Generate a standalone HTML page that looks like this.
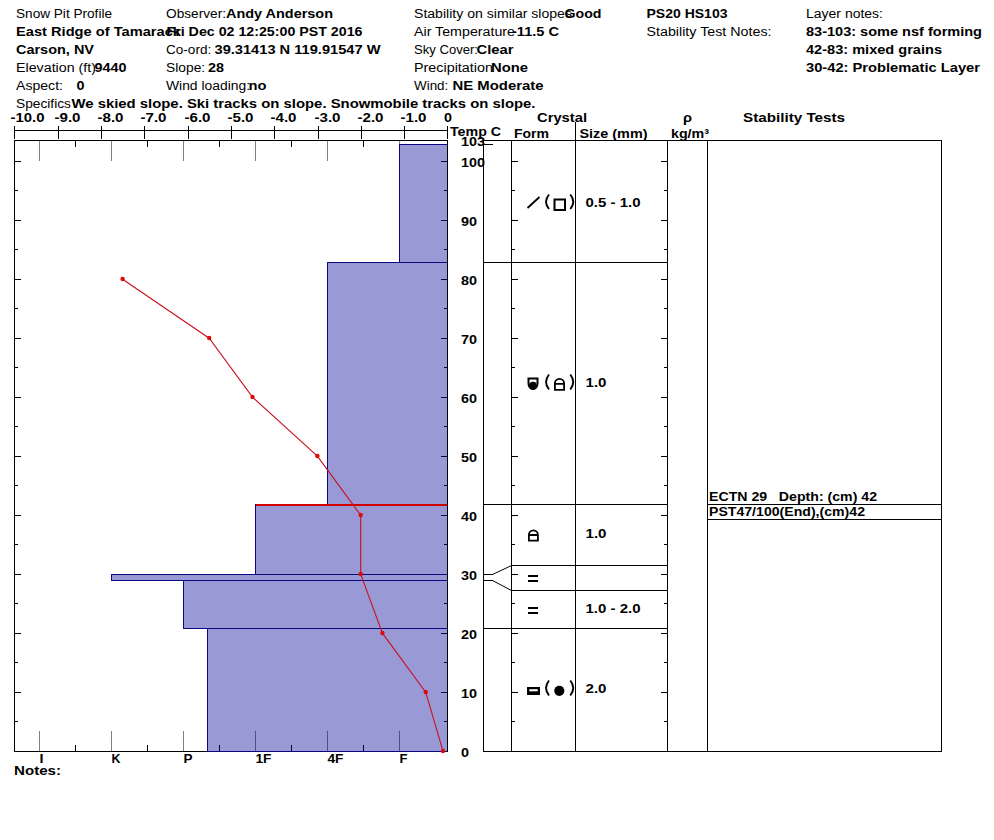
<!DOCTYPE html>
<html><head><meta charset="utf-8"><style>
html,body{margin:0;padding:0;background:#fff;}
svg{display:block;}
text{font-family:"Liberation Sans",sans-serif;white-space:pre;}
</style></head><body>
<svg width="994" height="840" viewBox="0 0 994 840" shape-rendering="crispEdges">
<rect width="994" height="840" fill="#fff"/>
<text x="16" y="18" font-weight="normal" font-size="12.5" fill="#000" textLength="96.00" lengthAdjust="spacingAndGlyphs">Snow Pit Profile</text>
<text x="166" y="18" font-weight="normal" font-size="12.5" fill="#000" textLength="60.00" lengthAdjust="spacingAndGlyphs">Observer:</text>
<text x="226" y="18" font-weight="bold" font-size="12.5" fill="#000" textLength="107.00" lengthAdjust="spacingAndGlyphs">Andy Anderson</text>
<text x="414" y="18" font-weight="normal" font-size="12.5" fill="#000" textLength="158.00" lengthAdjust="spacingAndGlyphs">Stability on similar slopes</text>
<text x="564.5" y="18" font-weight="bold" font-size="12.5" fill="#000" textLength="37.00" lengthAdjust="spacingAndGlyphs">Good</text>
<text x="646.5" y="18" font-weight="bold" font-size="12.5" fill="#000" textLength="81.00" lengthAdjust="spacingAndGlyphs">PS20 HS103</text>
<text x="806" y="18" font-weight="normal" font-size="12.5" fill="#000" textLength="77.00" lengthAdjust="spacingAndGlyphs">Layer notes:</text>
<text x="16" y="36" font-weight="bold" font-size="12.5" fill="#000" textLength="165.00" lengthAdjust="spacingAndGlyphs">East Ridge of Tamarack</text>
<text x="166.5" y="36" font-weight="bold" font-size="12.5" fill="#000" textLength="196.00" lengthAdjust="spacingAndGlyphs">Fri Dec 02 12:25:00 PST 2016</text>
<text x="414" y="36" font-weight="normal" font-size="12.5" fill="#000" textLength="101.00" lengthAdjust="spacingAndGlyphs">Air Temperature</text>
<text x="512" y="36" font-weight="bold" font-size="12.5" fill="#000" textLength="47.00" lengthAdjust="spacingAndGlyphs">-11.5 C</text>
<text x="646.5" y="36" font-weight="normal" font-size="12.5" fill="#000" textLength="125.00" lengthAdjust="spacingAndGlyphs">Stability Test Notes:</text>
<text x="806" y="36" font-weight="bold" font-size="12.5" fill="#000" textLength="176.00" lengthAdjust="spacingAndGlyphs">83-103: some nsf forming</text>
<text x="16" y="54" font-weight="bold" font-size="12.5" fill="#000" textLength="78.00" lengthAdjust="spacingAndGlyphs">Carson, NV</text>
<text x="166" y="54" font-weight="normal" font-size="12.5" fill="#000" textLength="49.00" lengthAdjust="spacingAndGlyphs">Co-ord: </text>
<text x="214.5" y="54" font-weight="bold" font-size="12.5" fill="#000" textLength="166.00" lengthAdjust="spacingAndGlyphs">39.31413 N 119.91547 W</text>
<text x="414" y="54" font-weight="normal" font-size="12.5" fill="#000" textLength="64.00" lengthAdjust="spacingAndGlyphs">Sky Cover:</text>
<text x="476.5" y="54" font-weight="bold" font-size="12.5" fill="#000" textLength="37.00" lengthAdjust="spacingAndGlyphs">Clear</text>
<text x="806" y="54" font-weight="bold" font-size="12.5" fill="#000" textLength="136.00" lengthAdjust="spacingAndGlyphs">42-83: mixed grains</text>
<text x="16" y="72" font-weight="normal" font-size="12.5" fill="#000" textLength="80.00" lengthAdjust="spacingAndGlyphs">Elevation (ft)</text>
<text x="94.5" y="72" font-weight="bold" font-size="12.5" fill="#000" textLength="32.00" lengthAdjust="spacingAndGlyphs">9440</text>
<text x="166" y="72" font-weight="normal" font-size="12.5" fill="#000" textLength="43.00" lengthAdjust="spacingAndGlyphs">Slope: </text>
<text x="208" y="72" font-weight="bold" font-size="12.5" fill="#000" textLength="16.00" lengthAdjust="spacingAndGlyphs">28</text>
<text x="414" y="72" font-weight="normal" font-size="12.5" fill="#000" textLength="79.00" lengthAdjust="spacingAndGlyphs">Precipitation</text>
<text x="491" y="72" font-weight="bold" font-size="12.5" fill="#000" textLength="37.00" lengthAdjust="spacingAndGlyphs">None</text>
<text x="806" y="72" font-weight="bold" font-size="12.5" fill="#000" textLength="174.00" lengthAdjust="spacingAndGlyphs">30-42: Problematic Layer</text>
<text x="16" y="90" font-weight="normal" font-size="12.5" fill="#000" textLength="47.00" lengthAdjust="spacingAndGlyphs">Aspect:</text>
<text x="76.5" y="90" font-weight="bold" font-size="12.5" fill="#000" textLength="8.00" lengthAdjust="spacingAndGlyphs">0</text>
<text x="166" y="90" font-weight="normal" font-size="12.5" fill="#000" textLength="84.00" lengthAdjust="spacingAndGlyphs">Wind loading:</text>
<text x="248.6" y="90" font-weight="bold" font-size="12.5" fill="#000" textLength="18.00" lengthAdjust="spacingAndGlyphs">no</text>
<text x="414" y="90" font-weight="normal" font-size="12.5" fill="#000" textLength="38.00" lengthAdjust="spacingAndGlyphs">Wind: </text>
<text x="452.5" y="90" font-weight="bold" font-size="12.5" fill="#000" textLength="91.00" lengthAdjust="spacingAndGlyphs">NE Moderate</text>
<text x="16" y="108" font-weight="normal" font-size="12.5" fill="#000" textLength="55.00" lengthAdjust="spacingAndGlyphs">Specifics</text>
<text x="71.5" y="108" font-weight="bold" font-size="12.5" fill="#000" textLength="464.00" lengthAdjust="spacingAndGlyphs">We skied slope. Ski tracks on slope. Snowmobile tracks on slope.</text>
<rect x="14" y="130" width="434" height="1" fill="#000"/>
<rect x="14" y="126" width="1" height="13" fill="#000"/>
<text x="10.5" y="122" font-weight="bold" font-size="12.5" fill="#000" textLength="34.00" lengthAdjust="spacingAndGlyphs">-10.0</text>
<rect x="58" y="126" width="1" height="13" fill="#000"/>
<text x="54.5" y="122" font-weight="bold" font-size="12.5" fill="#000" textLength="26.00" lengthAdjust="spacingAndGlyphs">-9.0</text>
<rect x="101" y="126" width="1" height="13" fill="#000"/>
<text x="97.5" y="122" font-weight="bold" font-size="12.5" fill="#000" textLength="26.00" lengthAdjust="spacingAndGlyphs">-8.0</text>
<rect x="144" y="126" width="1" height="13" fill="#000"/>
<text x="140.5" y="122" font-weight="bold" font-size="12.5" fill="#000" textLength="26.00" lengthAdjust="spacingAndGlyphs">-7.0</text>
<rect x="188" y="126" width="1" height="13" fill="#000"/>
<text x="184.5" y="122" font-weight="bold" font-size="12.5" fill="#000" textLength="26.00" lengthAdjust="spacingAndGlyphs">-6.0</text>
<rect x="231" y="126" width="1" height="13" fill="#000"/>
<text x="227.5" y="122" font-weight="bold" font-size="12.5" fill="#000" textLength="26.00" lengthAdjust="spacingAndGlyphs">-5.0</text>
<rect x="274" y="126" width="1" height="13" fill="#000"/>
<text x="270.5" y="122" font-weight="bold" font-size="12.5" fill="#000" textLength="26.00" lengthAdjust="spacingAndGlyphs">-4.0</text>
<rect x="318" y="126" width="1" height="13" fill="#000"/>
<text x="314.5" y="122" font-weight="bold" font-size="12.5" fill="#000" textLength="26.00" lengthAdjust="spacingAndGlyphs">-3.0</text>
<rect x="361" y="126" width="1" height="13" fill="#000"/>
<text x="357.5" y="122" font-weight="bold" font-size="12.5" fill="#000" textLength="26.00" lengthAdjust="spacingAndGlyphs">-2.0</text>
<rect x="404" y="126" width="1" height="13" fill="#000"/>
<text x="400.5" y="122" font-weight="bold" font-size="12.5" fill="#000" textLength="26.00" lengthAdjust="spacingAndGlyphs">-1.0</text>
<rect x="447" y="126" width="1" height="13" fill="#000"/>
<text x="444" y="122" font-weight="bold" font-size="12.5" fill="#000" textLength="8.00" lengthAdjust="spacingAndGlyphs">0</text>
<text x="450" y="136" font-weight="bold" font-size="12.5" fill="#000" textLength="51.00" lengthAdjust="spacingAndGlyphs">Temp C</text>
<rect x="14" y="140" width="434" height="1" fill="#000"/>
<rect x="14" y="751" width="434" height="1" fill="#000"/>
<rect x="14" y="140" width="1" height="612" fill="#000"/>
<rect x="447" y="140" width="1" height="612" fill="#000"/>
<rect x="39" y="141" width="1" height="20" fill="#808080"/>
<rect x="39" y="731" width="1" height="20" fill="#808080"/>
<rect x="111" y="141" width="1" height="20" fill="#808080"/>
<rect x="111" y="731" width="1" height="20" fill="#808080"/>
<rect x="183" y="141" width="1" height="20" fill="#808080"/>
<rect x="183" y="731" width="1" height="20" fill="#808080"/>
<rect x="255" y="141" width="1" height="20" fill="#808080"/>
<rect x="255" y="731" width="1" height="20" fill="#808080"/>
<rect x="327" y="141" width="1" height="20" fill="#808080"/>
<rect x="327" y="731" width="1" height="20" fill="#808080"/>
<rect x="399" y="141" width="1" height="20" fill="#808080"/>
<rect x="399" y="731" width="1" height="20" fill="#808080"/>
<rect x="75" y="141" width="1" height="6" fill="#000"/>
<rect x="75" y="745" width="1" height="6" fill="#000"/>
<rect x="147" y="141" width="1" height="6" fill="#000"/>
<rect x="147" y="745" width="1" height="6" fill="#000"/>
<rect x="219" y="141" width="1" height="6" fill="#000"/>
<rect x="219" y="745" width="1" height="6" fill="#000"/>
<rect x="291" y="141" width="1" height="6" fill="#000"/>
<rect x="291" y="745" width="1" height="6" fill="#000"/>
<rect x="363" y="141" width="1" height="6" fill="#000"/>
<rect x="363" y="745" width="1" height="6" fill="#000"/>
<rect x="15" y="721" width="3" height="1" fill="#000"/>
<rect x="444" y="721" width="3" height="1" fill="#000"/>
<rect x="15" y="692" width="6" height="1" fill="#000"/>
<rect x="441" y="692" width="6" height="1" fill="#000"/>
<rect x="15" y="662" width="3" height="1" fill="#000"/>
<rect x="444" y="662" width="3" height="1" fill="#000"/>
<rect x="15" y="633" width="6" height="1" fill="#000"/>
<rect x="441" y="633" width="6" height="1" fill="#000"/>
<rect x="15" y="603" width="3" height="1" fill="#000"/>
<rect x="444" y="603" width="3" height="1" fill="#000"/>
<rect x="15" y="574" width="6" height="1" fill="#000"/>
<rect x="441" y="574" width="6" height="1" fill="#000"/>
<rect x="15" y="544" width="3" height="1" fill="#000"/>
<rect x="444" y="544" width="3" height="1" fill="#000"/>
<rect x="15" y="515" width="6" height="1" fill="#000"/>
<rect x="441" y="515" width="6" height="1" fill="#000"/>
<rect x="15" y="485" width="3" height="1" fill="#000"/>
<rect x="444" y="485" width="3" height="1" fill="#000"/>
<rect x="15" y="456" width="6" height="1" fill="#000"/>
<rect x="441" y="456" width="6" height="1" fill="#000"/>
<rect x="15" y="426" width="3" height="1" fill="#000"/>
<rect x="444" y="426" width="3" height="1" fill="#000"/>
<rect x="15" y="397" width="6" height="1" fill="#000"/>
<rect x="441" y="397" width="6" height="1" fill="#000"/>
<rect x="15" y="367" width="3" height="1" fill="#000"/>
<rect x="444" y="367" width="3" height="1" fill="#000"/>
<rect x="15" y="338" width="6" height="1" fill="#000"/>
<rect x="441" y="338" width="6" height="1" fill="#000"/>
<rect x="15" y="308" width="3" height="1" fill="#000"/>
<rect x="444" y="308" width="3" height="1" fill="#000"/>
<rect x="15" y="279" width="6" height="1" fill="#000"/>
<rect x="441" y="279" width="6" height="1" fill="#000"/>
<rect x="15" y="249" width="3" height="1" fill="#000"/>
<rect x="444" y="249" width="3" height="1" fill="#000"/>
<rect x="15" y="220" width="6" height="1" fill="#000"/>
<rect x="441" y="220" width="6" height="1" fill="#000"/>
<rect x="15" y="190" width="3" height="1" fill="#000"/>
<rect x="444" y="190" width="3" height="1" fill="#000"/>
<rect x="15" y="161" width="6" height="1" fill="#000"/>
<rect x="441" y="161" width="6" height="1" fill="#000"/>
<rect x="399" y="144" width="48" height="118" fill="rgba(0,0,153,0.4)"/>
<rect x="327" y="262" width="120" height="242" fill="rgba(0,0,153,0.4)"/>
<rect x="255" y="504" width="192" height="70" fill="rgba(0,0,153,0.4)"/>
<rect x="111" y="574" width="336" height="6" fill="rgba(0,0,153,0.4)"/>
<rect x="183" y="580" width="264" height="48" fill="rgba(0,0,153,0.4)"/>
<rect x="207" y="628" width="240" height="123" fill="rgba(0,0,153,0.4)"/>
<rect x="399" y="144" width="48" height="1" fill="#08087f"/>
<rect x="399" y="262" width="48" height="1" fill="#08087f"/>
<rect x="399" y="144" width="1" height="119" fill="#08087f"/>
<rect x="327" y="262" width="120" height="1" fill="#08087f"/>
<rect x="327" y="504" width="120" height="1" fill="#08087f"/>
<rect x="327" y="262" width="1" height="243" fill="#08087f"/>
<rect x="255" y="504" width="192" height="1" fill="#08087f"/>
<rect x="255" y="574" width="192" height="1" fill="#08087f"/>
<rect x="255" y="504" width="1" height="71" fill="#08087f"/>
<rect x="111" y="574" width="336" height="1" fill="#08087f"/>
<rect x="111" y="580" width="336" height="1" fill="#08087f"/>
<rect x="111" y="574" width="1" height="7" fill="#08087f"/>
<rect x="183" y="580" width="264" height="1" fill="#08087f"/>
<rect x="183" y="628" width="264" height="1" fill="#08087f"/>
<rect x="183" y="580" width="1" height="49" fill="#08087f"/>
<rect x="207" y="628" width="240" height="1" fill="#08087f"/>
<rect x="207" y="751" width="240" height="1" fill="#08087f"/>
<rect x="207" y="628" width="1" height="124" fill="#08087f"/>
<rect x="255" y="504" width="192" height="2" fill="#d00000"/>
<rect x="255" y="504" width="1" height="3" fill="#08087f"/>
<polyline points="122.6,279.2 209.2,338.2 252.5,397.2 317.4,456.2 360.7,515.2 360.7,574.2 382.4,633.2 425.7,692.2 443.0,751.2" fill="none" stroke="#c8101e" stroke-width="1.1" shape-rendering="geometricPrecision"/>
<circle cx="122.6" cy="279.0" r="2.2" fill="#dc0a0a" shape-rendering="geometricPrecision"/>
<circle cx="209.2" cy="338.0" r="2.2" fill="#dc0a0a" shape-rendering="geometricPrecision"/>
<circle cx="252.5" cy="397.0" r="2.2" fill="#dc0a0a" shape-rendering="geometricPrecision"/>
<circle cx="317.4" cy="456.0" r="2.2" fill="#dc0a0a" shape-rendering="geometricPrecision"/>
<circle cx="360.7" cy="515.0" r="2.2" fill="#dc0a0a" shape-rendering="geometricPrecision"/>
<circle cx="360.7" cy="574.0" r="2.2" fill="#dc0a0a" shape-rendering="geometricPrecision"/>
<circle cx="382.4" cy="633.0" r="2.2" fill="#dc0a0a" shape-rendering="geometricPrecision"/>
<circle cx="425.7" cy="692.0" r="2.2" fill="#dc0a0a" shape-rendering="geometricPrecision"/>
<circle cx="443.0" cy="751.0" r="2.2" fill="#dc0a0a" shape-rendering="geometricPrecision"/>
<text x="39.5" y="763" font-weight="bold" font-size="12.5" fill="#000" textLength="4.00" lengthAdjust="spacingAndGlyphs">I</text>
<text x="111.5" y="763" font-weight="bold" font-size="12.5" fill="#000" textLength="9.00" lengthAdjust="spacingAndGlyphs">K</text>
<text x="183.5" y="763" font-weight="bold" font-size="12.5" fill="#000" textLength="9.00" lengthAdjust="spacingAndGlyphs">P</text>
<text x="255.5" y="763" font-weight="bold" font-size="12.5" fill="#000" textLength="16.00" lengthAdjust="spacingAndGlyphs">1F</text>
<text x="327.5" y="763" font-weight="bold" font-size="12.5" fill="#000" textLength="16.00" lengthAdjust="spacingAndGlyphs">4F</text>
<text x="399.5" y="763" font-weight="bold" font-size="12.5" fill="#000" textLength="8.00" lengthAdjust="spacingAndGlyphs">F</text>
<text x="14" y="775" font-weight="bold" font-size="12.5" fill="#000" textLength="47.00" lengthAdjust="spacingAndGlyphs">Notes:</text>
<text x="461" y="146" font-weight="bold" font-size="12.5" fill="#000" textLength="24.00" lengthAdjust="spacingAndGlyphs">103</text>
<text x="461" y="167" font-weight="bold" font-size="12.5" fill="#000" textLength="24.00" lengthAdjust="spacingAndGlyphs">100</text>
<text x="461" y="226" font-weight="bold" font-size="12.5" fill="#000" textLength="16.00" lengthAdjust="spacingAndGlyphs">90</text>
<text x="461" y="285" font-weight="bold" font-size="12.5" fill="#000" textLength="16.00" lengthAdjust="spacingAndGlyphs">80</text>
<text x="461" y="344" font-weight="bold" font-size="12.5" fill="#000" textLength="16.00" lengthAdjust="spacingAndGlyphs">70</text>
<text x="461" y="403" font-weight="bold" font-size="12.5" fill="#000" textLength="16.00" lengthAdjust="spacingAndGlyphs">60</text>
<text x="461" y="462" font-weight="bold" font-size="12.5" fill="#000" textLength="16.00" lengthAdjust="spacingAndGlyphs">50</text>
<text x="461" y="521" font-weight="bold" font-size="12.5" fill="#000" textLength="16.00" lengthAdjust="spacingAndGlyphs">40</text>
<text x="461" y="580" font-weight="bold" font-size="12.5" fill="#000" textLength="16.00" lengthAdjust="spacingAndGlyphs">30</text>
<text x="461" y="639" font-weight="bold" font-size="12.5" fill="#000" textLength="16.00" lengthAdjust="spacingAndGlyphs">20</text>
<text x="461" y="698" font-weight="bold" font-size="12.5" fill="#000" textLength="16.00" lengthAdjust="spacingAndGlyphs">10</text>
<text x="461" y="757" font-weight="bold" font-size="12.5" fill="#000" textLength="8.00" lengthAdjust="spacingAndGlyphs">0</text>
<rect x="483" y="140" width="459" height="1" fill="#000"/>
<rect x="483" y="140" width="1" height="612" fill="#000"/>
<rect x="511" y="140" width="1" height="612" fill="#000"/>
<rect x="575" y="122" width="1" height="630" fill="#000"/>
<rect x="667" y="140" width="1" height="612" fill="#000"/>
<rect x="707" y="140" width="1" height="612" fill="#000"/>
<rect x="941" y="140" width="1" height="612" fill="#000"/>
<rect x="483" y="751" width="459" height="1" fill="#000"/>
<rect x="483" y="144" width="10" height="1" fill="#000"/>
<rect x="512" y="721" width="3" height="1" fill="#000"/>
<rect x="664" y="721" width="3" height="1" fill="#000"/>
<rect x="512" y="692" width="6" height="1" fill="#000"/>
<rect x="661" y="692" width="6" height="1" fill="#000"/>
<rect x="512" y="662" width="3" height="1" fill="#000"/>
<rect x="664" y="662" width="3" height="1" fill="#000"/>
<rect x="512" y="633" width="6" height="1" fill="#000"/>
<rect x="661" y="633" width="6" height="1" fill="#000"/>
<rect x="512" y="603" width="3" height="1" fill="#000"/>
<rect x="664" y="603" width="3" height="1" fill="#000"/>
<rect x="512" y="574" width="6" height="1" fill="#000"/>
<rect x="661" y="574" width="6" height="1" fill="#000"/>
<rect x="512" y="544" width="3" height="1" fill="#000"/>
<rect x="664" y="544" width="3" height="1" fill="#000"/>
<rect x="512" y="515" width="6" height="1" fill="#000"/>
<rect x="661" y="515" width="6" height="1" fill="#000"/>
<rect x="512" y="485" width="3" height="1" fill="#000"/>
<rect x="664" y="485" width="3" height="1" fill="#000"/>
<rect x="512" y="456" width="6" height="1" fill="#000"/>
<rect x="661" y="456" width="6" height="1" fill="#000"/>
<rect x="512" y="426" width="3" height="1" fill="#000"/>
<rect x="664" y="426" width="3" height="1" fill="#000"/>
<rect x="512" y="397" width="6" height="1" fill="#000"/>
<rect x="661" y="397" width="6" height="1" fill="#000"/>
<rect x="512" y="367" width="3" height="1" fill="#000"/>
<rect x="664" y="367" width="3" height="1" fill="#000"/>
<rect x="512" y="338" width="6" height="1" fill="#000"/>
<rect x="661" y="338" width="6" height="1" fill="#000"/>
<rect x="512" y="308" width="3" height="1" fill="#000"/>
<rect x="664" y="308" width="3" height="1" fill="#000"/>
<rect x="512" y="279" width="6" height="1" fill="#000"/>
<rect x="661" y="279" width="6" height="1" fill="#000"/>
<rect x="512" y="249" width="3" height="1" fill="#000"/>
<rect x="664" y="249" width="3" height="1" fill="#000"/>
<rect x="512" y="220" width="6" height="1" fill="#000"/>
<rect x="661" y="220" width="6" height="1" fill="#000"/>
<rect x="512" y="190" width="3" height="1" fill="#000"/>
<rect x="664" y="190" width="3" height="1" fill="#000"/>
<rect x="512" y="161" width="6" height="1" fill="#000"/>
<rect x="661" y="161" width="6" height="1" fill="#000"/>
<rect x="483" y="262" width="185" height="1" fill="#000"/>
<rect x="483" y="504" width="185" height="1" fill="#000"/>
<rect x="483" y="628" width="185" height="1" fill="#000"/>
<rect x="511" y="565" width="157" height="1" fill="#000"/>
<rect x="511" y="590" width="157" height="1" fill="#000"/>
<rect x="483" y="574" width="10" height="1" fill="#000"/>
<rect x="483" y="580" width="10" height="1" fill="#000"/>
<polyline points="492.5,574.5 511.5,565.5" fill="none" stroke="#000" stroke-width="1" shape-rendering="geometricPrecision"/>
<polyline points="492.5,580.5 511.5,590.5" fill="none" stroke="#000" stroke-width="1" shape-rendering="geometricPrecision"/>
<rect x="707" y="504" width="235" height="1" fill="#000"/>
<rect x="707" y="519" width="235" height="1" fill="#000"/>
<text x="709" y="501" font-weight="bold" font-size="12.5" fill="#000" textLength="168.00" lengthAdjust="spacingAndGlyphs">ECTN 29   Depth: (cm) 42</text>
<text x="709" y="516" font-weight="bold" font-size="12.5" fill="#000" textLength="156.00" lengthAdjust="spacingAndGlyphs">PST47/100(End),(cm)42</text>
<text x="537" y="122" font-weight="bold" font-size="12.5" fill="#000" textLength="50.00" lengthAdjust="spacingAndGlyphs">Crystal</text>
<text x="514" y="138" font-weight="bold" font-size="12.5" fill="#000" textLength="35.00" lengthAdjust="spacingAndGlyphs">Form</text>
<text x="579.5" y="138" font-weight="bold" font-size="12.5" fill="#000" textLength="68.00" lengthAdjust="spacingAndGlyphs">Size (mm)</text>
<text x="683" y="122" font-weight="bold" font-size="12.5" fill="#000" textLength="9.00" lengthAdjust="spacingAndGlyphs">ρ</text>
<text x="671" y="138" font-weight="bold" font-size="12.5" fill="#000" textLength="38.00" lengthAdjust="spacingAndGlyphs">kg/m³</text>
<text x="743" y="122" font-weight="bold" font-size="12.5" fill="#000" textLength="102.00" lengthAdjust="spacingAndGlyphs">Stability Tests</text>
<text x="585.5" y="207" font-weight="bold" font-size="12.5" fill="#000" textLength="55.00" lengthAdjust="spacingAndGlyphs">0.5 - 1.0</text>
<text x="585.5" y="387" font-weight="bold" font-size="12.5" fill="#000" textLength="21.00" lengthAdjust="spacingAndGlyphs">1.0</text>
<text x="585.5" y="538" font-weight="bold" font-size="12.5" fill="#000" textLength="21.00" lengthAdjust="spacingAndGlyphs">1.0</text>
<text x="585.5" y="613" font-weight="bold" font-size="12.5" fill="#000" textLength="55.00" lengthAdjust="spacingAndGlyphs">1.0 - 2.0</text>
<text x="585.5" y="693" font-weight="bold" font-size="12.5" fill="#000" textLength="21.00" lengthAdjust="spacingAndGlyphs">2.0</text>
<g shape-rendering="geometricPrecision">
<line x1="527.5" y1="208" x2="539.5" y2="197" stroke="#000" stroke-width="1.8" shape-rendering="geometricPrecision"/>
<path d="M549,194.5 Q543.1,201.75 549,209.0" fill="none" stroke="#000" stroke-width="1.9" shape-rendering="geometricPrecision"/>
<rect x="554.5" y="199.5" width="10.5" height="10.5" fill="none" stroke="#000" stroke-width="2"/>
<path d="M570.3,194.5 Q576.2,201.75 570.3,209.0" fill="none" stroke="#000" stroke-width="1.9" shape-rendering="geometricPrecision"/>
<path d="M528.5,378.5 H537.5 V383.5 A4.5,5.5 0 0 1 528.5,383.5 Z" fill="none" stroke="#000" stroke-width="2"/>
<circle cx="533.0" cy="385.7" r="3.9" fill="#000"/>
<path d="M549,374.5 Q543.1,382.0 549,389.5" fill="none" stroke="#000" stroke-width="1.9" shape-rendering="geometricPrecision"/>
<path d="M554.9,389.8 V383.5 A4.600000000000023,4.600000000000023 0 0 1 564.1,383.5 V389.8 Z M554.9,383.9 H564.1" fill="none" stroke="#000" stroke-width="1.8"/>
<path d="M570.3,374.5 Q576.2,382.0 570.3,389.5" fill="none" stroke="#000" stroke-width="1.9" shape-rendering="geometricPrecision"/>
<path d="M528.9,540.6 V534.8 A4.5,4.5 0 0 1 537.9,534.8 V540.6 Z M528.9,535.0 H537.9" fill="none" stroke="#000" stroke-width="1.8"/>
<rect x="528" y="575" width="10" height="2" fill="#000"/>
<rect x="528" y="580" width="10" height="2" fill="#000"/>
<rect x="528" y="607" width="10" height="2" fill="#000"/>
<rect x="528" y="612" width="10" height="2" fill="#000"/>
<rect x="527" y="687" width="13" height="8" fill="#000"/>
<rect x="529.3" y="689.2" width="8.4" height="2.1" fill="#fff"/>
<path d="M549,680.5 Q543.1,688.0 549,695.5" fill="none" stroke="#000" stroke-width="1.9" shape-rendering="geometricPrecision"/>
<circle cx="559.3" cy="690.8" r="5.1" fill="#000"/>
<path d="M570.3,680.5 Q576.2,688.0 570.3,695.5" fill="none" stroke="#000" stroke-width="1.9" shape-rendering="geometricPrecision"/>
</g>
</svg></body></html>
